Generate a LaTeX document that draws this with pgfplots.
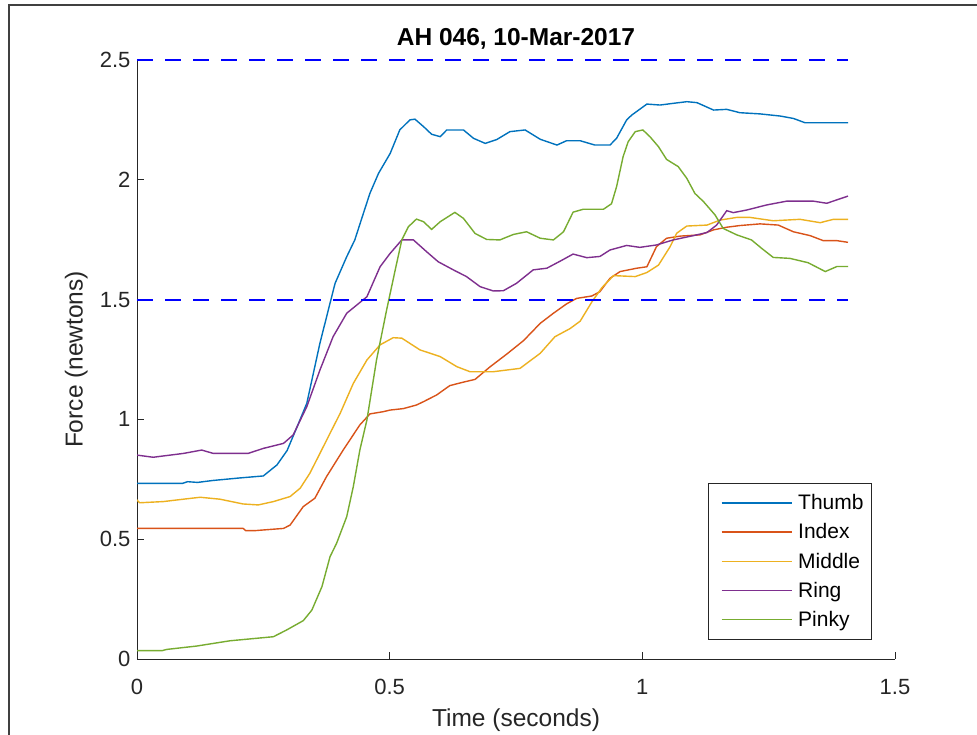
\documentclass[border=0pt]{standalone}
\usepackage{pgfplots}
\pgfplotsset{compat=1.18}
\usepackage{fontspec}
\setmainfont{Liberation Sans}
\definecolor{mthumb}{rgb}{0,0.447,0.741}
\definecolor{mindex}{rgb}{0.85,0.325,0.098}
\definecolor{mmiddle}{rgb}{0.929,0.694,0.125}
\definecolor{mring}{rgb}{0.494,0.184,0.556}
\definecolor{mpinky}{rgb}{0.466,0.674,0.188}
\definecolor{mgray}{rgb}{0.15,0.15,0.15}
\begin{document}
\begin{tikzpicture}
\useasboundingbox (0,0) rectangle (977pt,735pt);
\fill[white] (0,0) rectangle (977pt,735pt);
\draw[line width=1.6pt, black!75] (9pt,0pt) -- (9pt,730pt) -- (977pt,730pt);
\begin{axis}[
  scale only axis,
  width=758pt, height=599pt,
  anchor=south west, at={(137pt,76pt)},
  xmin=0, xmax=1.5, ymin=0, ymax=2.5,
  axis x line=bottom, axis y line=left,
  axis line style={-, mgray, line width=0.9pt},
  xtick={0,0.5,1,1.5}, ytick={0,0.5,1,1.5,2,2.5},
  tick align=inside, major tick length=7pt,
  tick style={mgray, line width=0.9pt},
  /pgf/number format/assume math mode=true,
  ticklabel style={font=\fontsize{22}{26}\selectfont, text=mgray},
  xticklabel style={yshift=-17pt},
  yticklabel style={xshift=-3pt},
  xlabel={Time (seconds)},
  ylabel={Force (newtons)},
  xlabel style={at={(axis description cs:0.5,-0.102)}, anchor=center, font=\fontsize{24.5}{28}\selectfont, text=mgray},
  ylabel style={at={(axis description cs:-0.080,0.5)}, anchor=center, font=\fontsize{24.5}{28}\selectfont, text=mgray},
  title={AH 046, 10-Mar-2017},
  title style={at={(axis description cs:0.5,1.025)}, anchor=center, font=\bfseries\fontsize{24.5}{28}\selectfont, text=black},
  legend cell align=left,
  legend image code/.code={\path (0pt,0pt); \draw[#1] (6pt,0pt) -- (76pt,0pt);},
  legend style={at={(axis description cs:0.9697,0.2938)}, anchor=north east,
    draw=mgray, line width=0.9pt, fill=white,
    font=\fontsize{21}{25}\selectfont, text=black,
    inner xsep=6pt, inner ysep=9pt, row sep=8.5pt,
    /tikz/every odd column/.append style={column sep=4pt}},
  every axis plot/.append style={line width=1.4pt},
]
\addplot[mthumb] coordinates {
(0,0.733) (0.09,0.733) (0.10,0.74) (0.12,0.737) (0.15,0.745) (0.20,0.755) (0.25,0.764)
(0.277,0.81) (0.297,0.87) (0.317,0.97) (0.336,1.067) (0.362,1.318) (0.382,1.485) (0.392,1.568)
(0.415,1.679) (0.431,1.749) (0.448,1.86) (0.461,1.944) (0.478,2.027) (0.501,2.11) (0.520,2.208)
(0.540,2.25) (0.550,2.253) (0.567,2.222) (0.583,2.19) (0.600,2.18) (0.613,2.208) (0.646,2.208)
(0.666,2.173) (0.689,2.152) (0.712,2.168) (0.738,2.201) (0.768,2.208) (0.798,2.169) (0.831,2.145)
(0.850,2.163) (0.877,2.163) (0.906,2.145) (0.936,2.145) (0.949,2.173) (0.969,2.25) (0.979,2.27)
(1.009,2.316) (1.035,2.312) (1.061,2.319) (1.088,2.326) (1.108,2.322) (1.141,2.291) (1.167,2.294)
(1.193,2.28) (1.233,2.275) (1.273,2.266) (1.299,2.256) (1.322,2.238) (1.365,2.238) (1.407,2.238)
};
\addlegendentry{Thumb}
\addplot[mindex] coordinates {
(0,0.545) (0.21,0.545) (0.215,0.536) (0.235,0.536) (0.29,0.545) (0.303,0.559) (0.329,0.636)
(0.352,0.671) (0.375,0.761) (0.408,0.872) (0.441,0.977) (0.461,1.023) (0.487,1.032) (0.501,1.039)
(0.527,1.045) (0.553,1.06) (0.567,1.074) (0.593,1.102) (0.619,1.141) (0.643,1.154) (0.669,1.167)
(0.699,1.22) (0.732,1.273) (0.765,1.329) (0.798,1.401) (0.824,1.443) (0.85,1.482) (0.87,1.505)
(0.9,1.515) (0.916,1.533) (0.936,1.589) (0.956,1.617) (0.989,1.631) (1.009,1.637) (1.028,1.721)
(1.048,1.756) (1.075,1.765) (1.114,1.77) (1.141,1.791) (1.167,1.802) (1.193,1.809) (1.233,1.816)
(1.269,1.811) (1.299,1.783) (1.332,1.767) (1.358,1.746) (1.385,1.746) (1.407,1.739)
};
\addlegendentry{Index}
\addplot[mmiddle] coordinates {
(0,0.664) (0.005,0.652) (0.052,0.657) (0.092,0.667) (0.125,0.675) (0.164,0.667) (0.21,0.647)
(0.24,0.643) (0.27,0.657) (0.303,0.678) (0.323,0.713) (0.342,0.775) (0.362,0.858) (0.382,0.942)
(0.402,1.025) (0.428,1.15) (0.455,1.248) (0.481,1.311) (0.507,1.341) (0.524,1.339) (0.56,1.29)
(0.6,1.262) (0.633,1.22) (0.659,1.199) (0.705,1.199) (0.758,1.213) (0.798,1.276) (0.827,1.345)
(0.857,1.379) (0.877,1.41) (0.9,1.49) (0.92,1.55) (0.943,1.6) (0.986,1.596) (1.009,1.613)
(1.032,1.644) (1.055,1.721) (1.068,1.777) (1.088,1.807) (1.128,1.811) (1.154,1.832) (1.187,1.843)
(1.213,1.843) (1.259,1.829) (1.312,1.835) (1.352,1.821) (1.378,1.835) (1.407,1.835)
};
\addlegendentry{Middle}
\addplot[mring] coordinates {
(0,0.851) (0.032,0.842) (0.092,0.858) (0.128,0.872) (0.151,0.858) (0.22,0.858) (0.25,0.879)
(0.29,0.9) (0.309,0.935) (0.336,1.053) (0.362,1.206) (0.388,1.345) (0.415,1.443) (0.455,1.512)
(0.481,1.637) (0.501,1.693) (0.524,1.749) (0.547,1.749) (0.573,1.7) (0.596,1.658) (0.626,1.624)
(0.652,1.596) (0.679,1.554) (0.705,1.536) (0.725,1.537) (0.751,1.568) (0.784,1.624) (0.811,1.631)
(0.837,1.66) (0.863,1.69) (0.89,1.675) (0.916,1.68) (0.936,1.707) (0.969,1.726) (0.995,1.718)
(1.028,1.728) (1.061,1.749) (1.101,1.767) (1.128,1.78) (1.147,1.811) (1.167,1.871) (1.18,1.863)
(1.207,1.874) (1.246,1.895) (1.286,1.911) (1.338,1.911) (1.365,1.902) (1.407,1.932)
};
\addlegendentry{Ring}
\addplot[mpinky] coordinates {
(0,0.035) (0.05,0.035) (0.059,0.04) (0.118,0.054) (0.184,0.076) (0.27,0.093) (0.296,0.121)
(0.329,0.16) (0.346,0.204) (0.366,0.302) (0.382,0.427) (0.395,0.483) (0.415,0.594) (0.428,0.719)
(0.441,0.872) (0.455,0.998) (0.474,1.248) (0.494,1.457) (0.511,1.624) (0.524,1.749) (0.537,1.804)
(0.553,1.836) (0.567,1.825) (0.583,1.793) (0.6,1.825) (0.629,1.864) (0.646,1.839) (0.669,1.776)
(0.692,1.751) (0.718,1.749) (0.745,1.772) (0.771,1.783) (0.798,1.756) (0.824,1.749) (0.844,1.783)
(0.863,1.865) (0.883,1.877) (0.923,1.877) (0.939,1.9) (0.949,1.971) (0.962,2.097) (0.972,2.159)
(0.986,2.201) (1.001,2.208) (1.015,2.18) (1.032,2.138) (1.048,2.085) (1.071,2.055) (1.088,2.006)
(1.104,1.943) (1.121,1.909) (1.144,1.853) (1.16,1.797) (1.187,1.77) (1.216,1.749) (1.236,1.714)
(1.259,1.676) (1.292,1.672) (1.328,1.654) (1.362,1.617) (1.385,1.638) (1.407,1.638)
};
\addlegendentry{Pinky}
\addplot[blue, line width=2pt, dash pattern=on 16pt off 12pt, forget plot] coordinates {(0,2.5) (1.407,2.5)};
\addplot[blue, line width=2pt, dash pattern=on 16pt off 12pt, forget plot] coordinates {(0,1.5) (1.407,1.5)};
\end{axis}
\end{tikzpicture}
\end{document}
